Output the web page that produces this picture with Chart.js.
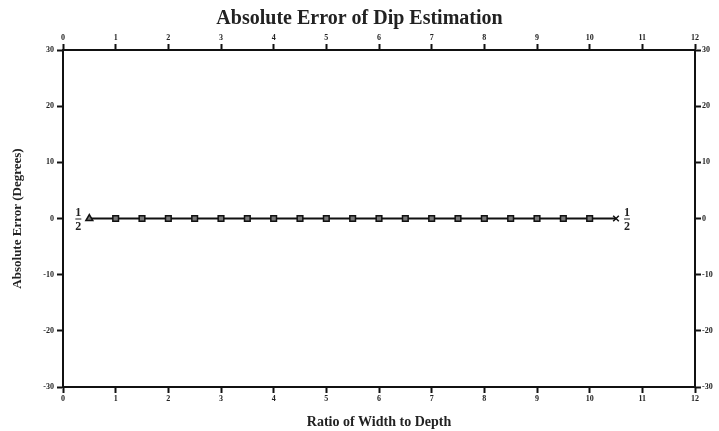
<!DOCTYPE html>
<html>
<head>
<meta charset="utf-8">
<script src="https://cdn.jsdelivr.net/npm/chart.js@4.4.1/dist/chart.umd.min.js"></script>
<style>
  html, body { margin: 0; padding: 0; background: #fff; }
  #wrap { width: 719px; height: 431px; }
</style>
</head>
<body>
<div id="wrap"><canvas id="chart" width="719" height="431"></canvas></div>
<script>
// Datos
const ratios = [0.5, 1, 1.5, 2, 2.5, 3, 3.5, 4, 4.5, 5, 5.5, 6, 6.5, 7, 7.5, 8, 8.5, 9, 9.5, 10, 10.5];
const absError = [0, 0, 0, 0, 0, 0, 0, 0, 0, 0, 0, 0, 0, 0, 0, 0, 0, 0, 0, 0, 0];
const endLabel = ['1', '2']; // fraccion 1/2 en los extremos
const xRange = [0, 12];
const yRange = [-30, 30];

const serif = '"Liberation Serif", "DejaVu Serif", serif';
const tickFont = { family: serif, size: 8, weight: 'bold' };

// estilos de punto: triangulo al inicio, cruz al final, cuadrados en medio
const pointStyles = ratios.map((r, i) => i === 0 ? 'triangle' : i === ratios.length - 1 ? 'crossRot' : 'rect');

// Fraccion 1/2 junto al primer y ultimo punto
const fractionPlugin = {
  id: 'fraction',
  afterDatasetsDraw(chart) {
    const pts = chart.getDatasetMeta(0).data;
    const c = chart.ctx;
    const draw = (x, y) => {
      c.save();
      c.fillStyle = '#222';
      c.strokeStyle = '#222';
      c.font = 'bold 12px ' + serif;
      c.textAlign = 'center';
      c.textBaseline = 'middle';
      c.fillText(endLabel[0], x, y - 6);
      c.fillText(endLabel[1], x, y + 8);
      c.lineWidth = 1;
      c.beginPath();
      c.moveTo(x - 3, y + 0.5);
      c.lineTo(x + 3, y + 0.5);
      c.stroke();
      c.restore();
    };
    const first = pts[0], last = pts[pts.length - 1];
    draw(first.x - 11, first.y);
    draw(last.x + 11, last.y);
  }
};

const axisBase = {
  type: 'linear',
  border: { display: true, color: '#111', width: 2 },
  grid: { drawOnChartArea: false, drawTicks: true, tickLength: 6, color: '#111', tickWidth: 2 },
  ticks: { color: '#222', font: tickFont, padding: 1 }
};

new Chart(document.getElementById('chart'), {
  type: 'line',
  data: {
    labels: ratios,
    datasets: [{
      data: ratios.map((r, i) => ({ x: r, y: absError[i] })),
      borderColor: '#111',
      borderWidth: 2.2,
      pointStyle: pointStyles,
      pointRadius: 4,
      pointBackgroundColor: '#777',
      pointBorderColor: '#111',
      pointBorderWidth: 1.5,
      tension: 0
    }]
  },
  options: {
    responsive: false,
    animation: false,
    layout: { padding: 0 },
    plugins: {
      legend: { display: false },
      tooltip: { enabled: false },
      title: {
        display: true,
        text: 'Absolute Error of Dip Estimation',
        color: '#222',
        font: { family: serif, size: 20, weight: 'bold' },
        padding: { top: 7, bottom: 0 }
      }
    },
    scales: {
      x: {
        ...axisBase,
        position: 'bottom',
        min: xRange[0], max: xRange[1],
        ticks: { ...axisBase.ticks, stepSize: 1 },
        title: {
          display: true,
          text: 'Ratio of Width to Depth',
          color: '#222',
          font: { family: serif, size: 14, weight: 'bold' },
          padding: { top: 0, bottom: 0 }
        },
        afterFit(s) { s.height = 44; }
      },
      x2: {
        ...axisBase,
        position: 'top',
        min: xRange[0], max: xRange[1],
        ticks: { ...axisBase.ticks, stepSize: 1 },
        afterFit(s) { s.height = 19; }
      },
      y: {
        ...axisBase,
        position: 'left',
        min: yRange[0], max: yRange[1],
        ticks: { ...axisBase.ticks, stepSize: 10, padding: 3 },
        title: {
          display: true,
          text: 'Absolute Error (Degrees)',
          color: '#222',
          font: { family: serif, size: 13, weight: 'bold' },
          padding: { top: 10, bottom: 0 }
        },
        afterFit(s) { s.width = 63; }
      },
      y2: {
        ...axisBase,
        position: 'right',
        min: yRange[0], max: yRange[1],
        ticks: { ...axisBase.ticks, stepSize: 10, padding: 1 },
        afterFit(s) { s.width = 24; }
      }
    }
  },
  plugins: [fractionPlugin]
});
</script>
</body>
</html>
